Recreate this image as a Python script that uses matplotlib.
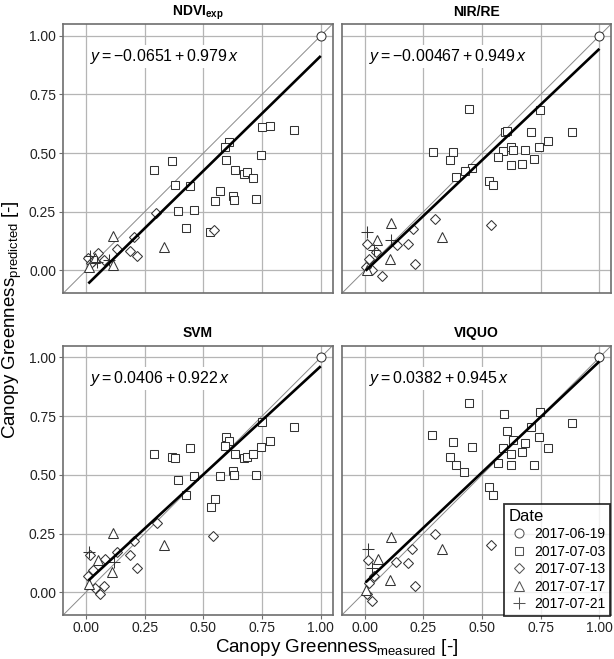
import numpy as np
import matplotlib
matplotlib.use("Agg")
import matplotlib.pyplot as plt
from matplotlib.lines import Line2D

plt.rcParams['font.family'] = ['Liberation Sans', 'DejaVu Sans']
plt.rcParams['mathtext.fontset'] = 'custom'
plt.rcParams['mathtext.rm'] = 'Liberation Sans'
plt.rcParams['mathtext.it'] = 'Liberation Sans:italic'
plt.rcParams['mathtext.bf'] = 'Liberation Sans:bold'

# ---------------- data ----------------
dates = ["2017-06-19", "2017-07-03", "2017-07-13", "2017-07-17", "2017-07-21"]
panel_titles = [r"$\mathbf{NDVI_{exp}}$", "NIR/RE", "SVM", "VIQUO"]
intercepts = [-0.0651, -0.00467, 0.0406, 0.0382]
slopes = [0.979, 0.949, 0.922, 0.945]
eq_labels = [r"$y = -0.0651 + 0.979\,x$", r"$y = -0.00467 + 0.949\,x$",
             r"$y = 0.0406 + 0.922\,x$", r"$y = 0.0382 + 0.945\,x$"]
tick_values = [0.00, 0.25, 0.50, 0.75, 1.00]
tick_labels = ["0.00", "0.25", "0.50", "0.75", "1.00"]

# 2017-06-19 (circle)
circ_x = [1.0]
circ_y = [1.0]

# NDVI_exp
p1_sq_x = [0.750, 0.785, 0.888, 0.609, 0.594, 0.597, 0.746, 0.366, 0.291, 0.379, 0.445, 0.635,
           0.675, 0.686, 0.712, 0.570, 0.550, 0.625, 0.629, 0.723, 0.392, 0.460, 0.427, 0.530]
p1_sq_y = [0.611, 0.616, 0.598, 0.547, 0.525, 0.471, 0.494, 0.466, 0.426, 0.365, 0.359, 0.427,
           0.412, 0.418, 0.395, 0.339, 0.297, 0.318, 0.300, 0.305, 0.253, 0.257, 0.182, 0.165]
p1_di_x = [0.544, 0.300, 0.203, 0.133, 0.189, 0.219, 0.010, 0.053, 0.078, 0.030, 0.020]
p1_di_y = [0.173, 0.246, 0.142, 0.091, 0.084, 0.063, 0.053, 0.074, 0.045, 0.040, 0.030]
p1_tr_x = [0.115, 0.332, 0.014, 0.117, 0.038]
p1_tr_y = [0.148, 0.098, 0.017, 0.024, 0.053]
p1_pl_x = [0.018, 0.045, 0.100]
p1_pl_y = [0.060, 0.035, 0.045]

# NIR/RE
p2_sq_x = [0.443, 0.748, 0.597, 0.607, 0.709, 0.884, 0.782, 0.289, 0.377, 0.365, 0.588, 0.624,
           0.633, 0.682, 0.743, 0.567, 0.721, 0.625, 0.670, 0.459, 0.426, 0.389, 0.530, 0.546]
p2_sq_y = [0.687, 0.682, 0.588, 0.595, 0.588, 0.588, 0.553, 0.506, 0.506, 0.470, 0.507, 0.524,
           0.514, 0.514, 0.524, 0.483, 0.477, 0.449, 0.452, 0.436, 0.422, 0.398, 0.381, 0.364]
p2_di_x = [0.299, 0.540, 0.205, 0.186, 0.136, 0.216, 0.075, 0.033, 0.018, 0.011, 0.048, 0.004]
p2_di_y = [0.219, 0.192, 0.178, 0.112, 0.108, 0.029, -0.023, 0.003, 0.048, 0.114, 0.080, 0.017]
p2_tr_x = [0.114, 0.331, 0.108, 0.054, 0.011]
p2_tr_y = [0.202, 0.144, 0.048, 0.131, 0.003]
p2_pl_x = [0.009, 0.111, 0.038]
p2_pl_y = [0.162, 0.128, 0.088]

# SVM
p3_sq_x = [0.750, 0.887, 0.595, 0.609, 0.592, 0.783, 0.445, 0.291, 0.366, 0.379, 0.635, 0.675,
           0.686, 0.712, 0.746, 0.460, 0.392, 0.570, 0.625, 0.629, 0.723, 0.427, 0.550, 0.531]
p3_sq_y = [0.727, 0.704, 0.662, 0.645, 0.622, 0.642, 0.615, 0.587, 0.575, 0.570, 0.588, 0.570,
           0.577, 0.588, 0.618, 0.493, 0.477, 0.493, 0.517, 0.498, 0.498, 0.415, 0.399, 0.364]
p3_di_x = [0.543, 0.304, 0.206, 0.131, 0.188, 0.219, 0.017, 0.081, 0.031, 0.010, 0.078, 0.060, 0.038]
p3_di_y = [0.240, 0.293, 0.219, 0.172, 0.160, 0.104, 0.158, 0.143, 0.094, 0.068, 0.026, -0.006, 0.016]
p3_tr_x = [0.117, 0.332, 0.053, 0.109, 0.013]
p3_tr_y = [0.254, 0.200, 0.139, 0.087, 0.033]
p3_pl_x = [0.014, 0.121]
p3_pl_y = [0.172, 0.129]

# VIQUO
p4_sq_x = [0.443, 0.748, 0.593, 0.884, 0.709, 0.607, 0.287, 0.633, 0.742, 0.682, 0.377, 0.459,
           0.782, 0.590, 0.624, 0.670, 0.365, 0.389, 0.425, 0.569, 0.625, 0.721, 0.530, 0.546]
p4_sq_y = [0.808, 0.766, 0.760, 0.719, 0.702, 0.686, 0.669, 0.650, 0.660, 0.635, 0.638, 0.618,
           0.615, 0.614, 0.588, 0.597, 0.578, 0.541, 0.513, 0.550, 0.541, 0.541, 0.446, 0.413]
p4_di_x = [0.540, 0.299, 0.202, 0.185, 0.134, 0.216, 0.014, 0.040, 0.018, 0.011, 0.033]
p4_di_y = [0.203, 0.246, 0.183, 0.125, 0.129, 0.027, 0.139, 0.068, 0.040, -0.006, -0.038]
p4_tr_x = [0.114, 0.330, 0.107, 0.057, 0.004]
p4_tr_y = [0.233, 0.183, 0.054, 0.143, 0.009]
p4_pl_x = [0.014, 0.033]
p4_pl_y = [0.182, 0.101]

panels = [
    (p1_sq_x, p1_sq_y, p1_di_x, p1_di_y, p1_tr_x, p1_tr_y, p1_pl_x, p1_pl_y),
    (p2_sq_x, p2_sq_y, p2_di_x, p2_di_y, p2_tr_x, p2_tr_y, p2_pl_x, p2_pl_y),
    (p3_sq_x, p3_sq_y, p3_di_x, p3_di_y, p3_tr_x, p3_tr_y, p3_pl_x, p3_pl_y),
    (p4_sq_x, p4_sq_y, p4_di_x, p4_di_y, p4_tr_x, p4_tr_y, p4_pl_x, p4_pl_y),
]

# ---------------- styling ----------------
W, H = 614, 659
fig = plt.figure(figsize=(W / 100, H / 100), dpi=100)
lims = (-0.098, 1.05)
pw = 269.5
lefts = [63, 341.7]
tops = [24, 345.7]
mk_edge = "#333333"
grid_col = "#b5b5b5"
border_col = "#6e6e6e"

marker_specs = [
    dict(marker="o", ms=6.5),
    dict(marker="s", ms=5.6),
    dict(marker="D", ms=5.0),
    dict(marker="^", ms=7.5),
    dict(marker="+", ms=9.0),
]

for i in range(4):
    r, c = divmod(i, 2)
    ax = fig.add_axes([lefts[c] / W, (H - tops[r] - pw) / H, pw / W, pw / H])
    ax.set_xlim(*lims)
    ax.set_ylim(*lims)
    ax.set_xticks(tick_values)
    ax.set_yticks(tick_values)
    ax.grid(True, color=grid_col, lw=0.9, zorder=0)
    ax.set_axisbelow(True)
    for s in ax.spines.values():
        s.set_color(border_col)
        s.set_linewidth(1.2)
    ax.tick_params(length=3, width=0.8, color=border_col, labelsize=10, labelcolor="#222222", pad=2)
    ax.tick_params(axis="x", pad=1.5)
    if r == 1:
        ax.set_xticklabels(tick_labels)
    else:
        ax.tick_params(axis="x", length=0, labelbottom=False)
    if c == 0:
        ax.set_yticklabels(tick_labels)
    else:
        ax.tick_params(axis="y", length=0, labelleft=False)

    # 1:1 line
    ax.plot(lims, lims, color="#8a8a8a", lw=0.7, zorder=1)

    sqx, sqy, dix, diy, trx, try_, plx, ply = panels[i]
    series = [(circ_x, circ_y), (sqx, sqy), (dix, diy), (trx, try_), (plx, ply)]
    for (xs, ys), spec in zip(series, marker_specs):
        ax.plot(xs, ys, ls="none", marker=spec["marker"], ms=spec["ms"], mfc="white" if spec["marker"] != "+" else "none",
                mec=mk_edge, mew=0.75, zorder=3)

    allx = np.concatenate([np.asarray(s[0]) for s in series])
    xr = np.array([allx.min(), allx.max()])
    ax.plot(xr, intercepts[i] + slopes[i] * xr, color="black", lw=1.9, zorder=4,
            solid_capstyle="butt")

    ax.text(0.017, 0.91, eq_labels[i], fontsize=11.5, ha="left", va="center", zorder=5,
            bbox=dict(facecolor="white", edgecolor="none", pad=1.5))

    ax.set_title(panel_titles[i], fontsize=10, fontweight="bold", pad=6)

fig.text(337 / W, 1 - 647 / H, r"Canopy Greenness$_{\mathrm{measured}}$ [-]", ha="center", va="center",
         fontsize=13.5)
fig.text(12 / W, 1 - 320 / H, r"Canopy Greenness$_{\mathrm{predicted}}$ [-]", ha="center", va="center",
         rotation=90, fontsize=13.5)

handles = [Line2D([], [], ls="none", marker=s["marker"], ms=s["ms"], mfc="white" if s["marker"] != "+" else "none",
                  mec="#555555", mew=0.75) for s in marker_specs]
leg = fig.legend(handles, dates, title="Date", loc="lower right", bbox_to_anchor=(610 / W, 43 / H),
                 fontsize=10, title_fontsize=12, frameon=True, fancybox=False, borderaxespad=0,
                 labelspacing=0.25, handletextpad=0.4, handlelength=1.4, borderpad=0.35)
leg.get_frame().set_edgecolor("black")
leg.get_frame().set_linewidth(1.3)
leg._legend_box.align = "left"
leg.set_zorder(10)

fig.savefig("out.png", dpi=100)
